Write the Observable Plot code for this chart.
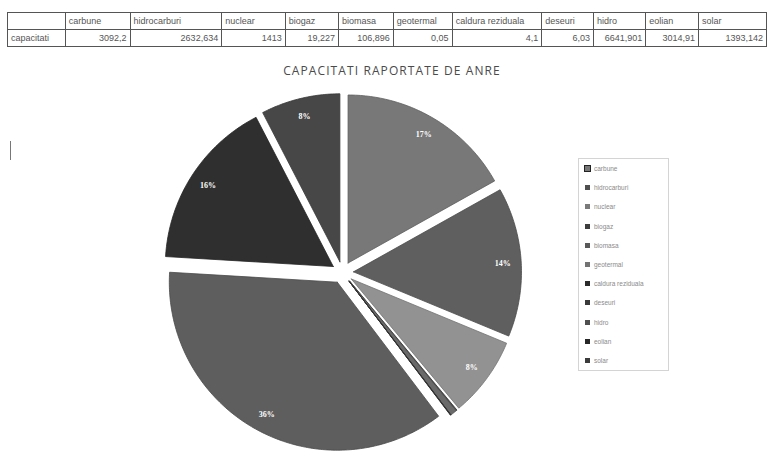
<!DOCTYPE html>
<html>
<head>
<meta charset="utf-8">
<script src="https://cdn.jsdelivr.net/npm/d3@7"></script>
<script src="https://cdn.jsdelivr.net/npm/@observablehq/plot@0.6"></script>
<style>
  html, body { margin: 0; padding: 0; background: #fff; }
  body { width: 767px; height: 465px; position: relative; overflow: hidden; font-family: "Liberation Sans", Arial, sans-serif; }
  #chart { position: absolute; left: 0; top: 0; }
  #tbl { position: absolute; left: 7px; top: 12px; border-collapse: collapse; table-layout: fixed; font-size: 9px; color: #555; }
  #tbl td { border: 1px solid #555; height: 16px; padding: 0 3px; white-space: nowrap; overflow: hidden; line-height: 16px; }
  #tbl td.num { text-align: right; }
  #title { position: absolute; left: 0; width: 784px; top: 62px; text-align: center; font-family: "Open Sans", sans-serif; font-size: 12px; letter-spacing: 1.1px; color: #4a4a4a; }
  #legend { position: absolute; left: 578px; top: 158px; width: 91px; height: 213px; border: 1px solid #d4d4d4; box-sizing: border-box; padding-top: 0; }
  .item { height: 19.2px; display: flex; align-items: center; padding-left: 6px; font-size: 6.5px; color: #8a8a8a; }
  .sw { width: 5px; height: 5px; margin-right: 4px; flex: none; }
  #mark { position: absolute; left: 10px; top: 141px; width: 1px; height: 19px; background: #777; }
</style>
</head>
<body>
<div id="chart"></div>
<table id="tbl"></table>
<div id="title"></div>
<div id="legend"></div>
<div id="mark"></div>
<script>
// Installed capacities by source (MW), as reported to ANRE
const categories = ["carbune", "hidrocarburi", "nuclear", "biogaz", "biomasa", "geotermal", "caldura reziduala", "deseuri", "hidro", "eolian", "solar"];
const capacities = [3092.2, 2632.634, 1413, 19.227, 106.896, 0.05, 4.1, 6.03, 6641.901, 3014.91, 1393.142];
const sliceColors = ["#787878", "#5f5f5f", "#929292", "#4a4a4a", "#6a6a6a", "#8a8a8a", "#333333", "#444444", "#5e5e5e", "#2f2f2f", "#474747"];
const rowLabel = "capacitati";
const chartTitle = "CAPACITATI RAPORTATE DE ANRE";
const columnWidths = [59, 67, 95, 66, 55, 56, 60, 91, 53, 53, 54, 70];

// Data table above the chart
const tbl = document.getElementById("tbl");
const cg = document.createElement("colgroup");
columnWidths.forEach(w => { const c = document.createElement("col"); c.style.width = w + "px"; cg.appendChild(c); });
tbl.appendChild(cg);
const head = tbl.insertRow();
head.insertCell().textContent = "";
categories.forEach(c => { head.insertCell().textContent = c; });
const row = tbl.insertRow();
row.insertCell().textContent = rowLabel;
capacities.forEach(v => { const td = row.insertCell(); td.className = "num"; td.textContent = String(v).replace(".", ","); });

document.getElementById("title").textContent = chartTitle;

// Legend
const legend = document.getElementById("legend");
categories.forEach((c, i) => {
  const it = document.createElement("div");
  it.className = "item";
  const sw = document.createElement("span");
  sw.className = "sw";
  sw.style.background = d3.color(sliceColors[i]).darker(0.5);
  if (i === 0) { sw.style.outline = "1px solid #222"; sw.style.background = "#777"; }
  it.appendChild(sw);
  it.appendChild(document.createTextNode(c));
  legend.appendChild(it);
});

// Exploded pie
const W = 767, H = 465;
const cx = 342, cy = 272, R = 168, explode = 11;
const rows = categories.map((name, i) => ({name, value: capacities[i], color: sliceColors[i]}));
const total = d3.sum(capacities);
const arcs = d3.pie().sort(null).value(d => d.value)(rows);

const outline = [];
const labels = [];
for (const a of arcs) {
  const mid = (a.startAngle + a.endAngle) / 2;
  const ox = explode * Math.sin(mid), oy = explode * Math.cos(mid);
  const stroke = d3.color(a.data.color).darker(0.7).formatHex();
  const n = Math.max(2, Math.ceil((a.endAngle - a.startAngle) / 0.015));
  outline.push({name: a.data.name, x: ox, y: oy, color: a.data.color, stroke});
  for (let k = 0; k <= n; k++) {
    const t = a.startAngle + (a.endAngle - a.startAngle) * k / n;
    outline.push({name: a.data.name, x: ox + R * Math.sin(t), y: oy + R * Math.cos(t), color: a.data.color, stroke});
  }
  outline.push({name: a.data.name, x: ox, y: oy, color: a.data.color, stroke});
  const pct = a.data.value / total * 100;
  if (pct >= 1) {
    const d = explode + R * 0.89;
    labels.push({x: d * Math.sin(mid), y: d * Math.cos(mid), text: Math.round(pct) + "%"});
  }
}

const plot = Plot.plot({
  width: W,
  height: H,
  margin: 0,
  x: {domain: [-cx, W - cx], axis: null},
  y: {domain: [-(H - cy), cy], axis: null},
  color: {type: "identity"},
  marks: [
    Plot.line(outline, {x: "x", y: "y", z: "name", fill: "color", stroke: "stroke", strokeWidth: 0.8, curve: "linear"}),
    Plot.text(labels, {x: "x", y: "y", text: "text", fill: "white", fontWeight: "bold", fontSize: 8, fontFamily: "Liberation Serif, serif"})
  ]
});
document.getElementById("chart").appendChild(plot);
</script>
</body>
</html>
